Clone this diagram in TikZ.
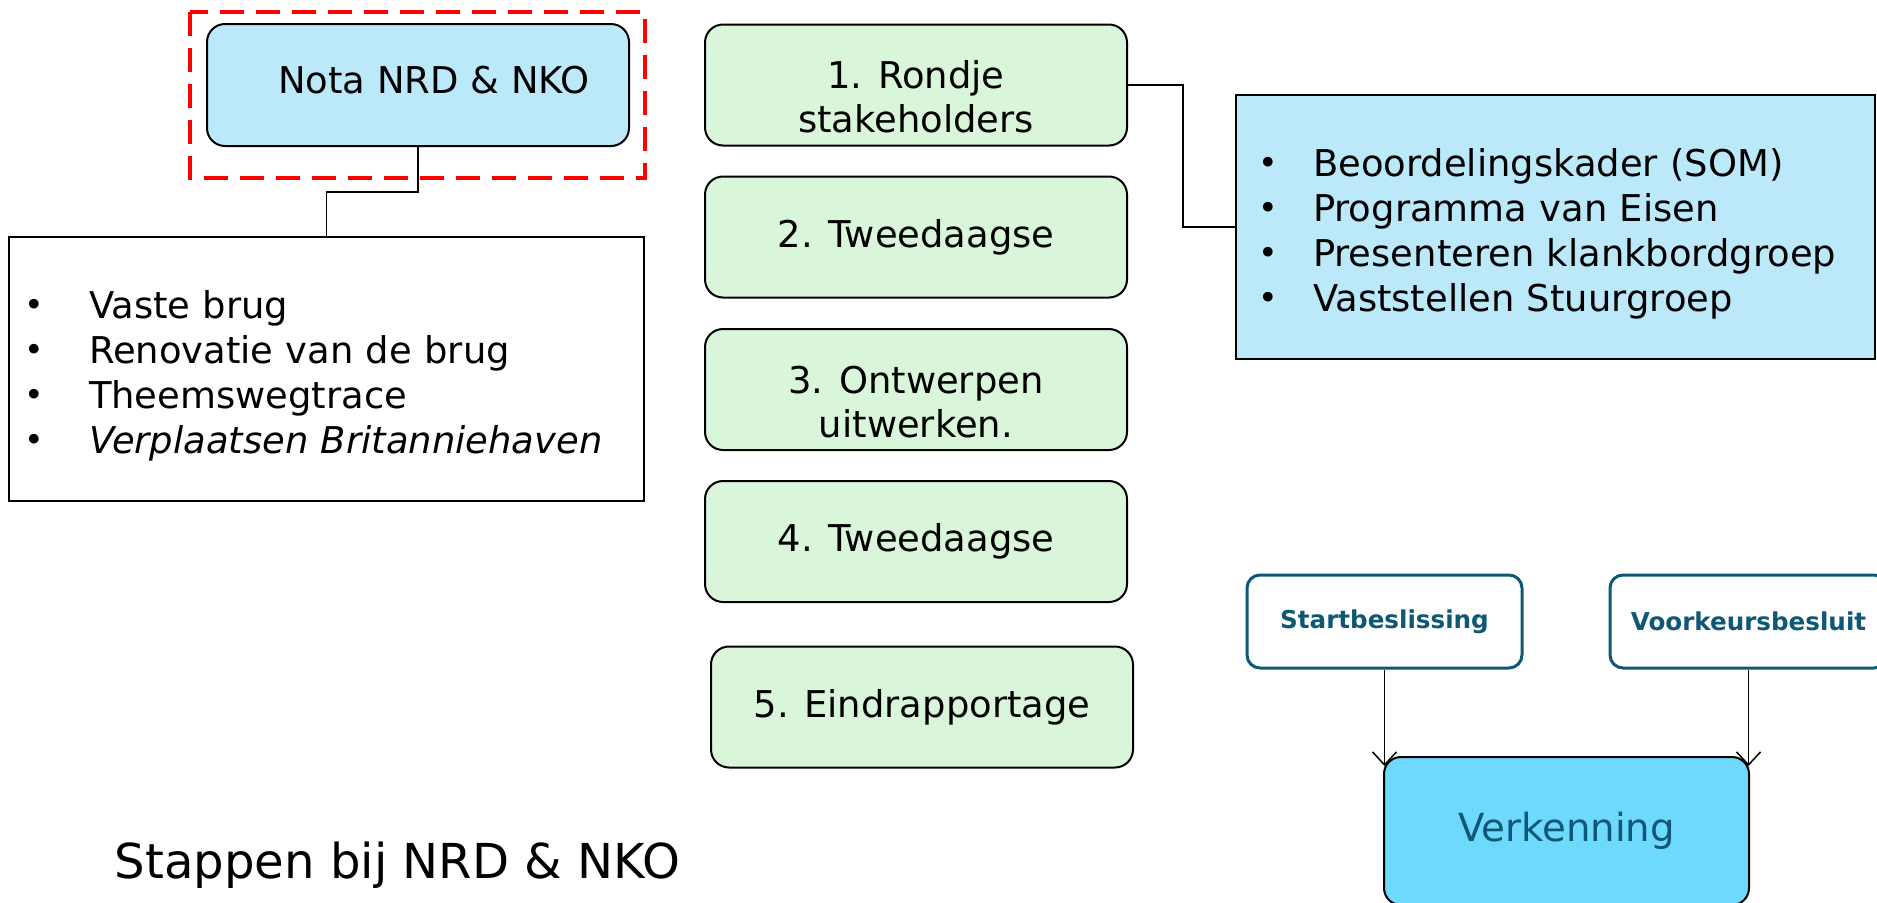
\documentclass[tikz,border=0pt]{standalone}
\usepackage{graphicx}
\usepackage{fontspec}
\setmainfont{DejaVu Sans}
\usetikzlibrary{arrows.meta}

\definecolor{notablauw}{RGB}{187,233,250}
\definecolor{stapgroen}{RGB}{218,246,218}
\definecolor{verkblauw}{RGB}{109,217,252}
\definecolor{donkerblauw}{RGB}{14,88,118}

\tikzset{
  stapbox/.style={draw, rounded corners=1.8mm, line width=0.2mm, fill=stapgroen,
    minimum width=42.2mm, minimum height=12.1mm, align=center,
    font=\fontsize{10.5}{12.5}\selectfont},
  lijstbox/.style={draw, line width=0.2mm, minimum height=26.4mm, align=left,
    font=\fontsize{10.5}{12.8}\selectfont},
  besluitbox/.style={draw=donkerblauw, rounded corners=1.3mm, line width=0.3mm,
    fill=white, minimum width=27.5mm, minimum height=9.3mm, text=donkerblauw,
    font=\fontsize{7}{8}\selectfont\bfseries},
  lijn/.style={line width=0.15mm},
  pijl/.style={line width=0.15mm, -{Straight Barb[length=1.3mm,width=2.4mm]}}
}

\newcommand{\punt}[2]{\makebox[#1][l]{\raisebox{0.6pt}{\scalebox{0.9}{•}}}#2}

\begin{document}
\begin{tikzpicture}[x=0.1mm, y=-0.1mm]
\useasboundingbox (0,0) rectangle (1877,902);

% Nota en alternatieven
\node[draw, rounded corners=1.8mm, line width=0.2mm, fill=notablauw,
  minimum width=42.2mm, minimum height=12.2mm,
  font=\fontsize{10.5}{12.5}\selectfont] (nota) at (418,85) {\hspace{3.2mm}\rule[-1.1mm]{0pt}{0pt}Nota NRD \& NKO};
\draw[red, line width=0.4mm, dash pattern=on 2.4mm off 1.2mm] (190,12) rectangle (645,178);

\node[lijstbox, minimum width=63.5mm, inner xsep=1.5mm, text width=60.5mm] (alternatieven) at (326.5,369) {%
  \rule{0pt}{4.1mm}\punt{6.5mm}{Vaste brug}\\
  \punt{6.5mm}{Renovatie van de brug}\\
  \punt{6.5mm}{Theemswegtrace}\\
  \punt{6.5mm}{\itshape Verplaatsen Britanniehaven}};

\draw[lijn] (nota.south) -- ++(0,45) -| (alternatieven.north);

% Stappen
\node[stapbox] (stap1) at (916,85) {\rule{0pt}{5.2mm}1. Rondje\\stakeholders};
\node[stapbox] (stap2) at (916,237) {2. Tweedaagse};
\node[stapbox] (stap3) at (916,389.5) {\rule{0pt}{5.2mm}3. Ontwerpen\\uitwerken.};
\node[stapbox] (stap4) at (916,541.5) {4. Tweedaagse};
\node[stapbox] (stap5) at (922,707) {5. Eindrapportage};

% Uitkomsten
\node[lijstbox, fill=notablauw, minimum width=63.9mm, inner xsep=2.2mm, text width=59.5mm] (eisen) at (1555.5,227) {%
  \rule{0pt}{4.1mm}\punt{5.5mm}{Beoordelingskader (SOM)}\\
  \punt{5.5mm}{Programma van Eisen}\\
  \punt{5.5mm}{Presenteren klankbordgroep}\\
  \punt{5.5mm}{Vaststellen Stuurgroep}};

\draw[lijn] (stap1.east) -- ++(55,0) |- (eisen.west);

% Besluiten en verkenning
\node[besluitbox] (start) at (1384.5,621.5) {Startbeslissing};
\node[besluitbox, minimum width=27.7mm] (voorkeur) at (1748.5,621.5) {Voorkeursbesluit};
\node[draw, rounded corners=1.7mm, line width=0.2mm, fill=verkblauw,
  minimum width=36.5mm, minimum height=14.8mm, text=donkerblauw,
  font=\fontsize{11}{13}\selectfont] (verkenning) at (1566.5,831) {Verkenning};

\draw[pijl] (start.south) -- ([yshift=-1mm]start.south |- verkenning.north);
\draw[pijl] (voorkeur.south) -- ([yshift=-1mm]voorkeur.south |- verkenning.north);

% Titel
\node[anchor=base west, inner sep=0pt, font=\fontsize{13.7}{16}\selectfont] (titel) at (114,878) {Stappen bij NRD \& NKO};

\end{tikzpicture}
\end{document}
